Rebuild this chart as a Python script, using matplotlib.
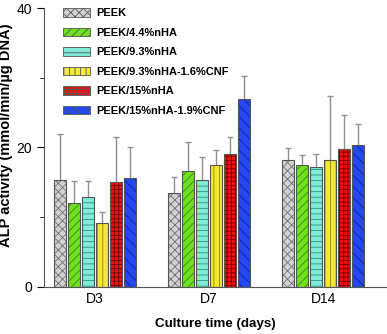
import numpy as np
import matplotlib
matplotlib.use('Agg')
import matplotlib.pyplot as plt

plt.rcParams['font.family'] = ['Liberation Sans', 'DejaVu Sans']
plt.rcParams['hatch.linewidth'] = 0.6

days = ['D3', 'D7', 'D14']
groups = ['PEEK', 'PEEK/4.4%nHA', 'PEEK/9.3%nHA', 'PEEK/9.3%nHA-1.6%CNF',
          'PEEK/15%nHA', 'PEEK/15%nHA-1.9%CNF']
# mean ALP activity per group, for D3, D7, D14
means = [[15.4, 13.4, 18.2],
         [12.05, 16.6, 17.45],
         [12.95, 15.4, 17.2],
         [9.1, 17.5, 18.2],
         [15.1, 19.1, 19.8],
         [15.6, 27.0, 20.3]]
# error (SD)
errs = [[6.6, 2.4, 1.7],
        [3.15, 4.2, 1.45],
        [2.25, 3.25, 1.8],
        [1.7, 2.2, 9.2],
        [6.4, 2.4, 4.8],
        [4.5, 3.3, 3.0]]

colors = ['#d2d2d2', '#6ee020', '#80ecd8', '#f2e838', '#f01010', '#2448f0']
hatches = ['xxxx', '////', '---', '|||', '++++', '\\\\\\']
hatch_col = ['#707070', '#3a8a10', '#309080', '#8a8010', '#700000', '#1020a0']

fig = plt.figure(figsize=(3.87, 3.34), dpi=100)
ax = fig.add_axes([0.114, 0.141, 0.886, 0.835])

x = np.arange(len(days))
pitch = 0.123
w = 0.105
for i in range(len(groups)):
    pos = x + (i - 2.5) * pitch
    ax.bar(pos, means[i], w, color=colors[i], edgecolor=hatch_col[i],
           hatch=hatches[i], linewidth=0, label=groups[i], zorder=2)
    ax.bar(pos, means[i], w, color='none', edgecolor='#555555', linewidth=0.8, zorder=3)
    ax.errorbar(pos, means[i], yerr=errs[i], fmt='none', ecolor='#909090',
                elinewidth=1.0, capsize=2.5, capthick=1.0, zorder=1)

ax.set_xlim(-0.447, 2.56)
ax.set_ylim(0, 40)
ax.set_yticks([0, 20, 40])
ax.set_yticks([10, 30], minor=True)
ax.set_xticks(x)
ax.set_xticklabels(days)
ax.tick_params(axis='x', length=0, labelsize=10, pad=4)
ax.tick_params(axis='y', which='major', length=5, labelsize=10, direction='out')
ax.tick_params(axis='y', which='minor', length=3, direction='out')
ax.spines['top'].set_visible(False)
ax.spines['right'].set_visible(False)
ax.spines['left'].set_color('#555555')
ax.spines['bottom'].set_color('#555555')
ax.set_xlabel('Culture time (days)', fontsize=9.6, fontweight='bold', labelpad=8)
ax.set_ylabel('ALP activity (mmol/min/µg DNA)', fontsize=10.5, fontweight='bold')
ax.yaxis.set_label_coords(-0.09, 0.545)

leg = ax.legend(loc='upper left', bbox_to_anchor=(0.055, 1.0), frameon=False,
                prop={'size': 7.9, 'weight': 'bold'}, handlelength=2.45,
                handleheight=0.85, labelspacing=0.85, handletextpad=0.55,
                borderpad=0, borderaxespad=0)
for h in leg.legend_handles:
    h.set_edgecolor('#555555')
    h.set_linewidth(0.6)

fig.savefig('out.png', dpi=100)
